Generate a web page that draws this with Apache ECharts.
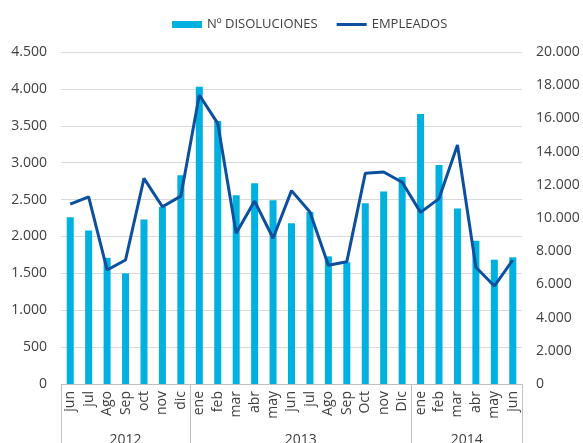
<!DOCTYPE html>
<html>
<head>
<meta charset="utf-8">
<script src="https://cdn.jsdelivr.net/npm/echarts@6/dist/echarts.min.js"></script>
<style>
  html, body { margin: 0; padding: 0; background: #fff; }
  #main { width: 583px; height: 443px; }
</style>
</head>
<body>
<div id="main"></div>
<script>
// meses (eje inferior) y años (segundo nivel)
var months = ['jun', 'jul', 'Ago', 'Sep', 'oct', 'nov', 'dic',
  'ene', 'feb', 'mar', 'abr', 'may', 'jun', 'jul', 'Ago', 'Sep', 'Oct', 'nov', 'Dic',
  'ene', 'feb', 'mar', 'abr', 'may', 'jun'];
var years = ['2012', '2013', '2014'];
var yearSizes = [7, 12, 6];

var disoluciones = [2260, 2080, 1710, 1500, 2230, 2400, 2830,
  4030, 3565, 2560, 2720, 2490, 2180, 2330, 1730, 1650, 2450, 2610, 2805,
  3660, 2970, 2380, 1940, 1685, 1717];
var empleados = [10830, 11270, 6870, 7470, 12390, 10680, 11320,
  17410, 15700, 9080, 11020, 8780, 11650, 10360, 7150, 7370, 12690, 12770, 12150,
  10340, 11170, 14400, 7030, 5900, 7470];

// eje de años: medias posiciones entre categorías (2 por mes)
var yearAxisData = [];
var sepIdx = [0];
var labelIdx = {};
var acc = 0;
for (var i = 0; i <= months.length * 2; i++) yearAxisData.push('');
yearSizes.forEach(function (n, k) {
  var mid = acc * 2 + n;
  yearAxisData[mid] = years[k];
  labelIdx[mid] = true;
  acc += n;
  sepIdx.push(acc * 2);
});

function miles(v) {
  return String(v).replace(/\B(?=(\d{3})+(?!\d))/g, '.');
}

var font = '"Open Sans", "Noto Sans", sans-serif';
var txt = '#404040';

var myChart = echarts.init(document.getElementById('main'));
var option = {
  animation: false,
  textStyle: { fontFamily: font },
  legend: {
    left: 167,
    top: 13,
    itemGap: 19,
    itemWidth: 30,
    itemHeight: 7,
    textStyle: { fontSize: 13, color: txt, fontFamily: font },
    data: [
      { name: 'Nº DISOLUCIONES', icon: 'rect' },
      { name: 'EMPLEADOS', icon: 'path://M0,0 L30,0 L30,3 L0,3 Z' }
    ]
  },
  grid: { left: 61, right: 61, top: 52, bottom: 59, outerBoundsMode: 'none' },
  xAxis: [{
    type: 'category',
    data: months,
    axisLine: { lineStyle: { color: '#bfbfbf' } },
    axisTick: { show: false },
    axisLabel: {
      interval: 0,
      rotate: 90,
      margin: 7,
      fontSize: 14,
      color: txt,
      fontFamily: font
    }
  }, {
    type: 'category',
    data: yearAxisData,
    boundaryGap: false,
    position: 'bottom',
    axisLine: { show: false },
    axisTick: {
      show: true,
      length: 59,
      interval: function (idx) { return sepIdx.indexOf(idx) >= 0; },
      lineStyle: { color: '#bfbfbf' }
    },
    axisLabel: {
      interval: function (idx) { return !!labelIdx[idx]; },
      margin: 49,
      fontSize: 14,
      color: txt,
      fontFamily: font
    }
  }],
  yAxis: [{
    type: 'value',
    min: 0,
    max: 4500,
    interval: 500,
    axisLabel: { formatter: miles, fontSize: 14, color: txt, margin: 14, fontFamily: font },
    splitLine: { lineStyle: { color: '#d9d9d9' } }
  }, {
    type: 'value',
    min: 0,
    max: 20000,
    interval: 2000,
    axisLabel: { formatter: miles, fontSize: 14, color: txt, margin: 14, fontFamily: font },
    splitLine: { show: false }
  }],
  series: [{
    name: 'Nº DISOLUCIONES',
    type: 'bar',
    barWidth: 7,
    itemStyle: { color: '#00b0de' },
    data: disoluciones
  }, {
    name: 'EMPLEADOS',
    type: 'line',
    yAxisIndex: 1,
    symbol: 'none',
    lineStyle: { color: '#0d4f9f', width: 3 },
    itemStyle: { color: '#0d4f9f' },
    data: empleados
  }]
};
myChart.setOption(option);
</script>
</body>
</html>
